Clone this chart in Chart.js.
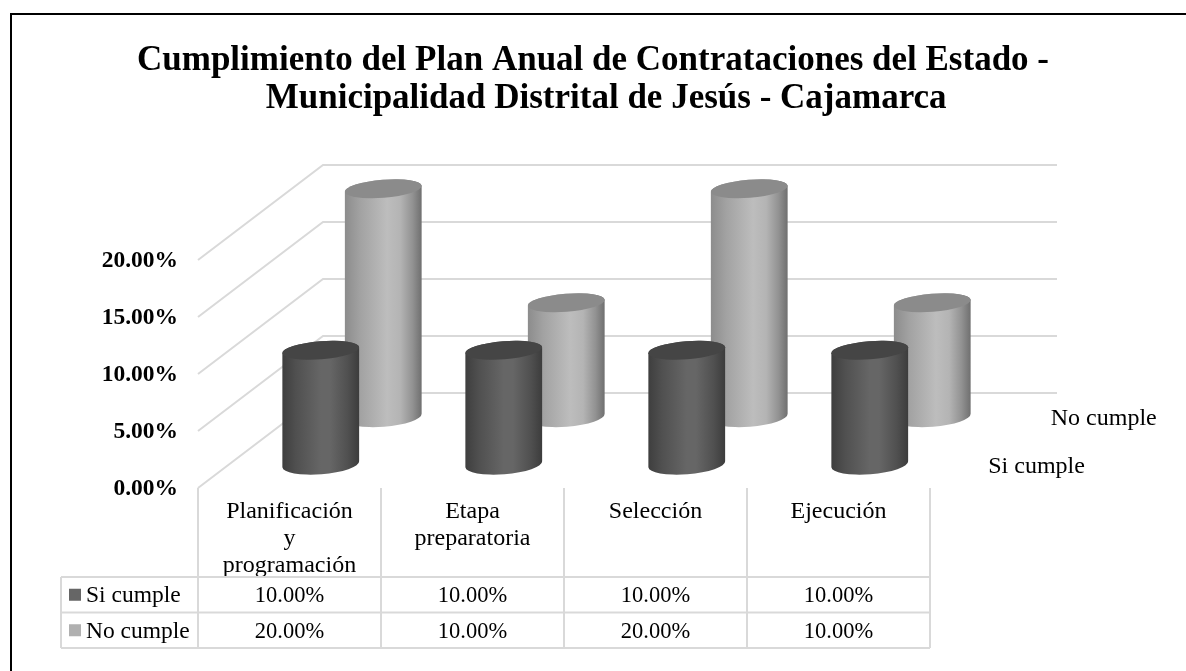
<!DOCTYPE html>
<html lang="es">
<head>
<meta charset="utf-8">
<title>Cumplimiento del Plan Anual de Contrataciones</title>
<style>
html,body{margin:0;padding:0;background:#fff;}
canvas{display:block;}
</style>
<script src="https://cdn.jsdelivr.net/npm/chart.js@4"></script>
</head>
<body>
<canvas id="c" width="1186" height="671"></canvas>
<script>
const titleLines = ['Cumplimiento del Plan Anual de Contrataciones del Estado -', '   Municipalidad Distrital de Jesús - Cajamarca'];
const categories = [['Planificación', 'y', 'programación'], ['Etapa', 'preparatoria'], ['Selección'], ['Ejecución']];
const siCumple = [10, 10, 10, 10];
const noCumple = [20, 10, 20, 10];
const seriesNames = ['Si cumple', 'No cumple'];

const FONT = '"Liberation Serif"';
const DEPTH_X = 125, DEPTH_Y = -95;
const seriesDepth = [0.25, 0.75];
const GRID = '#d9d9d9';
const TILT = -4.5 * Math.PI / 180;
const RY_TOP = 9, RY_BASE = 10;
const swatch = ['#666666', '#b0b0b0'];
const topFill = ['#454545', '#8b8b8b'];
const stops = [
  [[0, '#3e3e3e'], [0.18, '#505050'], [0.5, '#666666'], [0.62, '#666666'], [0.85, '#505050'], [1, '#3c3c3c']],
  [[0, '#8c8c8c'], [0.2, '#a2a2a2'], [0.55, '#bdbdbd'], [0.72, '#b4b4b4'], [0.88, '#929292'], [1, '#6f6f6f']]
];
const fmt = v => v.toFixed(2) + '%';

function drawCylinder(ctx, cx, yTop, yBase, halfW, i) {
  const g = ctx.createLinearGradient(cx - halfW, 0, cx + halfW, 0);
  stops[i].forEach(s => g.addColorStop(s[0], s[1]));
  ctx.beginPath();
  ctx.ellipse(cx, yBase, halfW, RY_BASE, TILT, Math.PI, 0, true);
  ctx.ellipse(cx, yTop, halfW, RY_TOP, TILT, 0, Math.PI, true);
  ctx.closePath();
  ctx.fillStyle = g;
  ctx.fill();
  ctx.beginPath();
  ctx.ellipse(cx, yTop, halfW, RY_TOP, TILT, 0, Math.PI * 2);
  ctx.fillStyle = topFill[i];
  ctx.fill();
}

const scene = {
  id: 'scene',
  beforeDatasetsDraw(chart) {
    const { ctx, scales: { x, y } } = chart;
    ctx.save();
    ctx.fillStyle = '#000';
    ctx.fillRect(10, 13, 1176, 2);
    ctx.fillRect(10, 13, 2, 658);

    ctx.strokeStyle = GRID;
    ctx.lineWidth = 2;
    y.ticks.forEach(t => {
      const py = y.getPixelForValue(t.value);
      ctx.beginPath();
      ctx.moveTo(x.left, py);
      ctx.lineTo(x.left + DEPTH_X, py + DEPTH_Y);
      ctx.lineTo(x.right + DEPTH_X + 2, py + DEPTH_Y);
      ctx.stroke();
    });

    const step = (x.right - x.left) / categories.length;
    const rowTop = 577, rowH = 35.5, tableLeft = 61;
    for (let i = 0; i <= categories.length; i++) {
      const vx = x.left + step * i;
      ctx.beginPath();
      ctx.moveTo(vx, y.bottom);
      ctx.lineTo(vx, rowTop + rowH * 2);
      ctx.stroke();
    }
    ctx.beginPath();
    ctx.moveTo(tableLeft, rowTop);
    ctx.lineTo(tableLeft, rowTop + rowH * 2);
    for (let r = 0; r <= 2; r++) {
      ctx.moveTo(tableLeft, rowTop + rowH * r);
      ctx.lineTo(x.right, rowTop + rowH * r);
    }
    ctx.stroke();

    ctx.textBaseline = 'middle';
    [siCumple, noCumple].forEach((vals, r) => {
      const cy = rowTop + rowH * r + rowH / 2 + 1.5;
      ctx.fillStyle = swatch[r];
      ctx.fillRect(69, cy - 7.5, 12, 12);
      ctx.fillStyle = '#000';
      ctx.textAlign = 'left';
      ctx.font = '23.5px ' + FONT;
      ctx.fillText(seriesNames[r], 86, cy);
      ctx.font = '24px ' + FONT;
      ctx.fillText(seriesNames[r], x.right + DEPTH_X * seriesDepth[r] + 27, y.bottom + DEPTH_Y * seriesDepth[r] + 2);
      ctx.textAlign = 'center';
      ctx.font = '22.5px ' + FONT;
      vals.forEach((v, i) => ctx.fillText(fmt(v), x.getPixelForValue(i), cy));
    });
    ctx.restore();
  },
  beforeDatasetDraw(chart, args) {
    const { ctx } = chart;
    const i = args.index, f = seriesDepth[i];
    ctx.save();
    args.meta.data.forEach(el => {
      const p = el.getProps(['x', 'y', 'base', 'width'], true);
      drawCylinder(ctx, p.x + DEPTH_X * f, p.y + DEPTH_Y * f, p.base + DEPTH_Y * f, p.width / 2, i);
    });
    ctx.restore();
    return false;
  }
};

new Chart(document.getElementById('c'), {
  type: 'bar',
  data: {
    labels: categories,
    datasets: [
      { label: seriesNames[0], data: siCumple, backgroundColor: swatch[0], yAxisID: 'y' },
      { label: seriesNames[1], data: noCumple, backgroundColor: swatch[1], yAxisID: 'y' }
    ]
  },
  options: {
    responsive: false,
    animation: false,
    layout: { padding: 0 },
    datasets: { bar: { grouped: false, categoryPercentage: 1, barPercentage: 77 / 183 } },
    plugins: {
      legend: { display: false },
      tooltip: { enabled: false },
      title: {
        display: true,
        text: titleLines,
        color: '#000',
        font: { family: FONT, size: 35, weight: 'bold', lineHeight: 1.086 },
        padding: { top: 42, bottom: 142 }
      }
    },
    scales: {
      x: {
        grid: { display: false },
        border: { display: false },
        ticks: {
          color: '#000',
          font: { family: FONT, size: 24, lineHeight: 1.13 },
          maxRotation: 0,
          autoSkip: false,
          padding: 2
        },
        afterFit(s) { s.height = 183; }
      },
      y: {
        min: 0,
        max: 20,
        grid: { display: false },
        border: { display: false },
        ticks: {
          stepSize: 5,
          color: '#000',
          font: { family: FONT, size: 23.5, weight: 'bold' },
          padding: 12,
          labelOffset: 1,
          callback: v => fmt(v)
        },
        afterFit(s) { s.width = 198; }
      },
      spacer: {
        position: 'right',
        display: true,
        grid: { display: false },
        border: { display: false },
        ticks: { display: false },
        afterFit(s) { s.width = 256; }
      }
    }
  },
  plugins: [scene]
});
</script>
</body>
</html>
